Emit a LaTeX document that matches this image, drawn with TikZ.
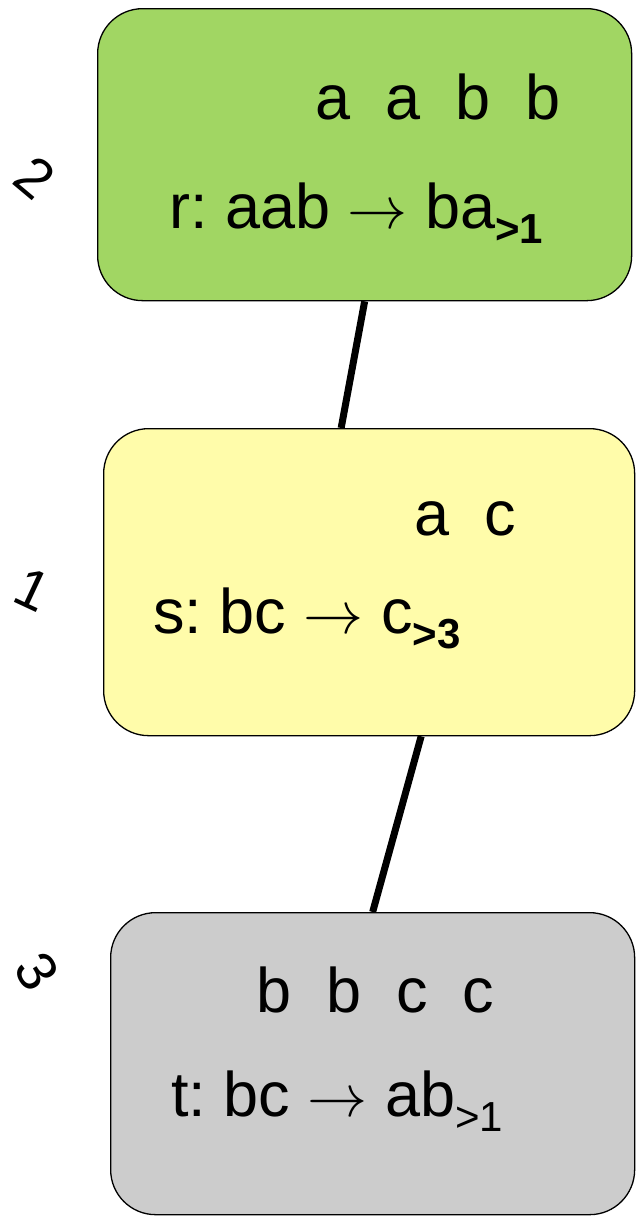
\documentclass[tikz,border=0pt]{standalone}
\usepackage{graphicx}
\usepackage{fontspec}
\setmainfont{Liberation Sans}
\frenchspacing
\definecolor{boxgreen}{RGB}{161,214,99}
\definecolor{boxyellow}{RGB}{255,252,170}
\definecolor{boxgray}{RGB}{204,204,204}
\newcommand{\subbf}[1]{\raisebox{-15pt}{\fontsize{42}{42}\selectfont\bfseries #1}}
\newcommand{\subrm}[1]{\raisebox{-15pt}{\fontsize{42}{42}\selectfont #1}}
\newcommand{\arr}{\mbox{\resizebox{60pt}{!}{$\rightarrow$}}}
\begin{document}
\begin{tikzpicture}[x=1pt,y=-1pt,
  rulebox/.style={draw=black,line width=1.3pt,rounded corners=45pt,inner sep=0pt,anchor=north west},
  txt/.style={anchor=base west,inner sep=0pt,font=\fontsize{63}{70}\selectfont},
  num/.style={inner sep=0pt,font=\fontsize{56}{60}\selectfont},
  link/.style={line width=7pt}]
\useasboundingbox (0,0) rectangle (635,1216);
\node[rulebox,fill=boxgreen,minimum width=534pt,minimum height=292pt] (g) at (97,8) {};
\node[rulebox,fill=boxyellow,minimum width=531pt,minimum height=307pt] (y) at (103,428) {};
\node[rulebox,fill=boxgray,minimum width=524pt,minimum height=302pt] (k) at (110,912) {};
\draw[link] (g.south) -- ([xshift=-28pt]y.north);
\draw[link] ([xshift=52pt]y.south) -- (k.north);
\node[txt] (g1) at (315,119) {a\ \ a\ \ b\ \ b};
\node[txt] (g2) at (169,228) {r: aab \arr{} ba\subbf{>1}};
\node[txt] (y1) at (414,535) {a\ \ c};
\node[txt] (y2) at (153,633) {s: bc \arr{} c\subbf{>3}};
\node[txt] (k1) at (256,1012) {b\ \ b\ \ c\ \ c};
\node[txt] (k2) at (171,1116) {t: bc \arr{} ab\subrm{>1}};
\node[num,rotate=-40] (n2) at (35,178) {2};
\node[num,rotate=-25] (n1) at (33,590) {1};
\node[num,rotate=-58] (n3) at (37,971) {3};
\end{tikzpicture}
\end{document}
